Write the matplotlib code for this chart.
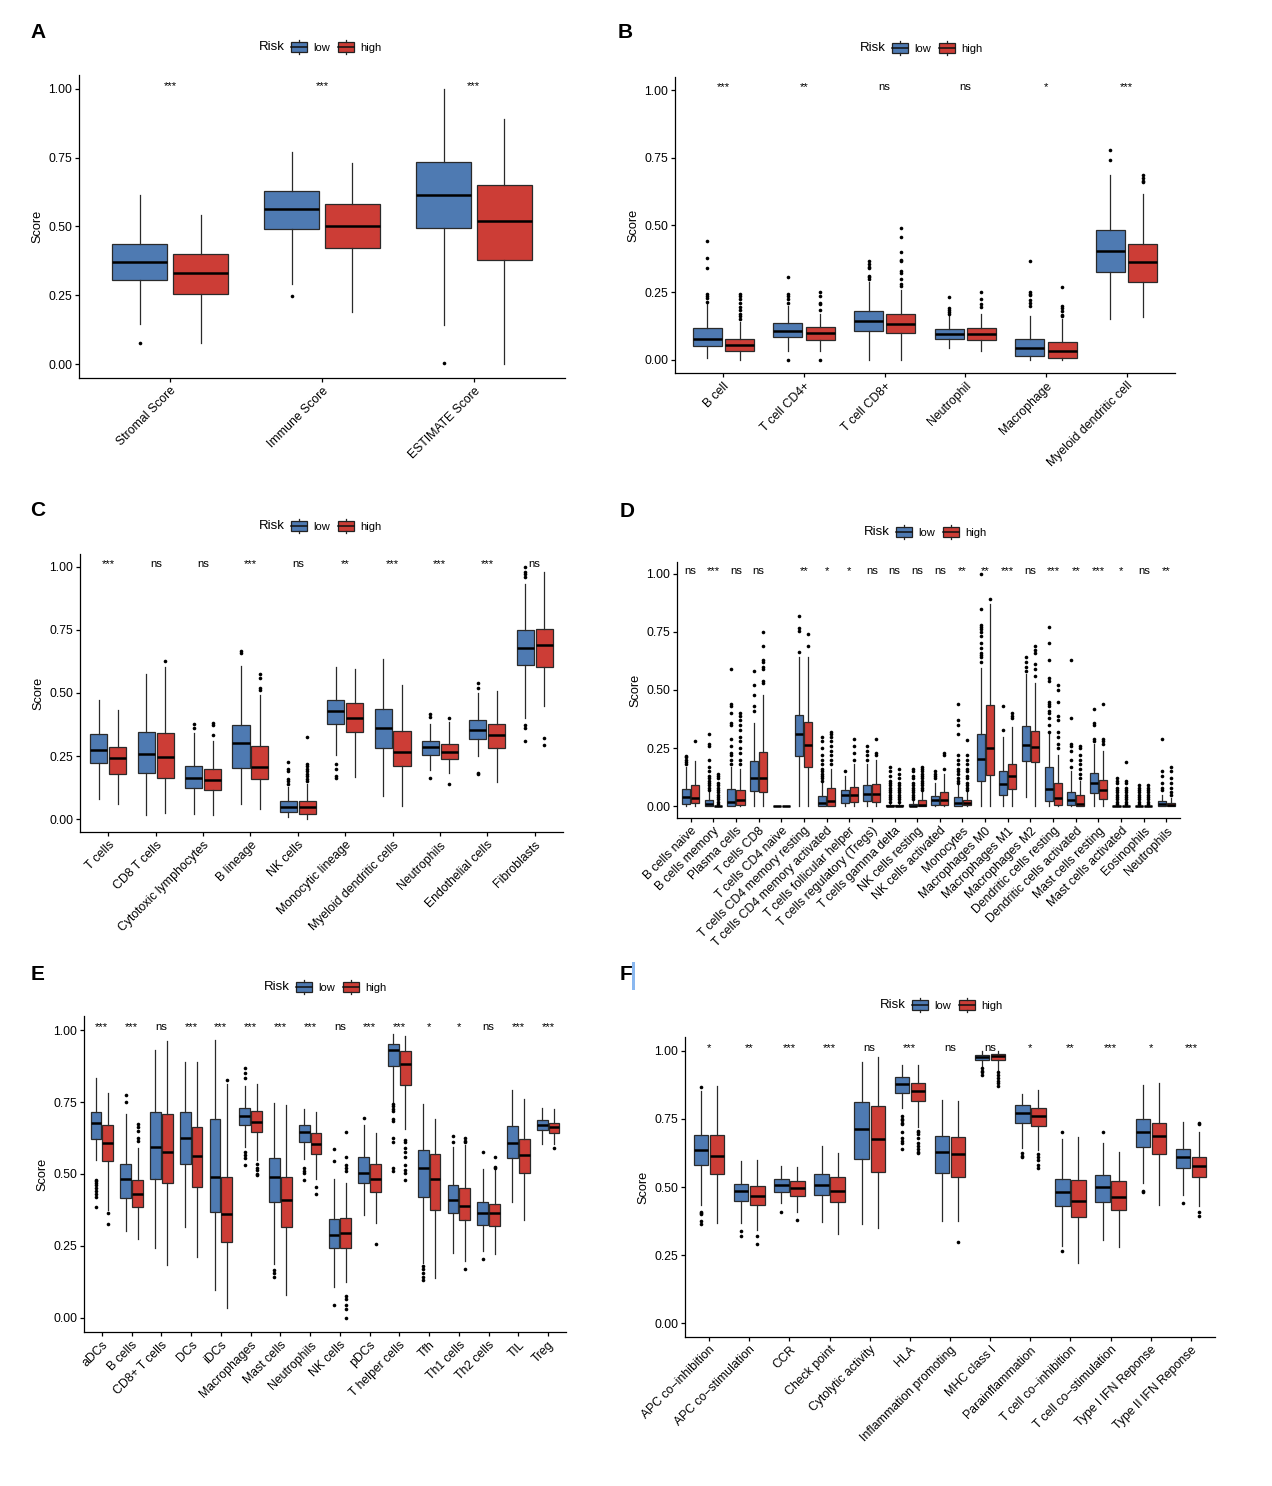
import matplotlib
matplotlib.use('Agg')
import matplotlib.pyplot as plt
from matplotlib.patches import Rectangle, Patch
from matplotlib.lines import Line2D
from matplotlib.legend_handler import HandlerBase

plt.rcParams['font.family'] = ['Liberation Sans', 'DejaVu Sans']

LOW_COLOR = '#4E7AB2'
HIGH_COLOR = '#CC3D36'

# each box: [whislo, q1, median, q3, whishi]

# Panel A
A_cats = ['Stromal Score', 'Immune Score', 'ESTIMATE Score']
A_sig = ['***', '***', '***']
A_low = [[0.145, 0.304, 0.37, 0.436, 0.613], [0.291, 0.491, 0.562, 0.628, 0.77], [0.141, 0.493, 0.613, 0.735, 1.0]]
A_low_out = [[0.076], [0.248], [0.004]]
A_high = [[0.076, 0.255, 0.332, 0.399, 0.543], [0.19, 0.423, 0.50, 0.581, 0.731], [0.0, 0.378, 0.52, 0.651, 0.892]]
A_high_out = [[], [], []]

# Panel B
B_cats = ['B cell', 'T cell CD4+', 'T cell CD8+', 'Neutrophil', 'Macrophage', 'Myeloid dendritic cell']
B_sig = ['***', '**', 'ns', 'ns', '*', '***']
B_low = [[0.005, 0.05, 0.077, 0.118, 0.205], [0.03, 0.083, 0.105, 0.135, 0.20], [0.0, 0.105, 0.143, 0.18, 0.29],
         [0.043, 0.077, 0.095, 0.112, 0.16], [0.0, 0.014, 0.043, 0.077, 0.161], [0.152, 0.326, 0.403, 0.481, 0.685]]
B_low_out = [[0.439, 0.379, 0.342, 0.242, 0.235, 0.229, 0.214], [0.305, 0.245, 0.235, 0.225, 0.21, 0.0],
             [0.365, 0.355, 0.345, 0.34, 0.31, 0.305, 0.30], [0.233, 0.19, 0.185, 0.175, 0.17],
             [0.368, 0.25, 0.245, 0.24, 0.22, 0.21, 0.20], [0.78, 0.74]]
B_high = [[0.0, 0.031, 0.053, 0.077, 0.14], [0.03, 0.074, 0.098, 0.12, 0.17], [0.0, 0.10, 0.133, 0.17, 0.26],
          [0.031, 0.074, 0.095, 0.117, 0.17], [0.0, 0.004, 0.033, 0.066, 0.15], [0.159, 0.289, 0.364, 0.428, 0.616]]
B_high_out = [[0.245, 0.235, 0.225, 0.21, 0.195, 0.185, 0.17, 0.16, 0.15], [0.25, 0.235, 0.21, 0.205, 0.185, 0.0],
              [0.49, 0.455, 0.40, 0.37, 0.365, 0.33, 0.32, 0.30, 0.28, 0.275], [0.25, 0.225, 0.205, 0.195],
              [0.27, 0.2, 0.19, 0.18, 0.165, 0.16], [0.685, 0.675, 0.665, 0.66]]

# Panel C
C_cats = ['T cells', 'CD8 T cells', 'Cytotoxic lymphocytes', 'B lineage', 'NK cells', 'Monocytic lineage',
          'Myeloid dendritic cells', 'Neutrophils', 'Endothelial cells', 'Fibroblasts']
C_sig = ['***', 'ns', 'ns', '***', 'ns', '**', '***', '***', '***', 'ns']
C_low = [[0.082, 0.224, 0.276, 0.337, 0.471], [0.016, 0.183, 0.259, 0.347, 0.575], [0.022, 0.125, 0.162, 0.213, 0.342],
         [0.059, 0.205, 0.303, 0.375, 0.605], [0.008, 0.029, 0.049, 0.071, 0.13], [0.253, 0.376, 0.43, 0.474, 0.603],
         [0.091, 0.282, 0.362, 0.436, 0.634], [0.197, 0.254, 0.286, 0.312, 0.378], [0.25, 0.318, 0.355, 0.395, 0.50],
         [0.40, 0.609, 0.68, 0.751, 0.93]]
C_low_out = [[], [], [0.378, 0.36], [0.665, 0.66], [0.225, 0.20, 0.19, 0.16, 0.15, 0.14], [0.22, 0.2, 0.17, 0.165],
             [], [0.415, 0.405, 0.165], [0.54, 0.52, 0.185, 0.18], [1.0, 0.98, 0.97, 0.96, 0.375, 0.36, 0.31]]
C_high = [[0.059, 0.18, 0.241, 0.288, 0.434], [0.026, 0.163, 0.245, 0.343, 0.601], [0.018, 0.116, 0.155, 0.199, 0.31],
          [0.042, 0.159, 0.207, 0.292, 0.492], [0.0, 0.022, 0.047, 0.071, 0.14], [0.168, 0.345, 0.401, 0.459, 0.595],
          [0.051, 0.211, 0.268, 0.351, 0.53], [0.184, 0.237, 0.268, 0.30, 0.384], [0.147, 0.283, 0.332, 0.376, 0.507],
          [0.45, 0.601, 0.69, 0.755, 0.978]]
C_high_out = [[], [0.625], [0.38, 0.375, 0.332], [0.575, 0.56, 0.52, 0.51],
              [0.325, 0.22, 0.21, 0.2, 0.19, 0.18, 0.17, 0.16, 0.15], [], [], [0.40, 0.138], [], [0.32, 0.295]]

# Panel D
D_cats = ['B cells naive', 'B cells memory', 'Plasma cells', 'T cells CD8', 'T cells CD4 naive',
          'T cells CD4 memory resting', 'T cells CD4 memory activated', 'T cells follicular helper',
          'T cells regulatory (Tregs)', 'T cells gamma delta', 'NK cells resting', 'NK cells activated', 'Monocytes',
          'Macrophages M0', 'Macrophages M1', 'Macrophages M2', 'Dendritic cells resting', 'Dendritic cells activated',
          'Mast cells resting', 'Mast cells activated', 'Eosinophils', 'Neutrophils']
D_sig = ['ns', '***', 'ns', 'ns', '', '**', '*', '*', 'ns', 'ns', 'ns', 'ns', '**', '**', '***', 'ns', '***', '**',
         '***', '*', 'ns', '**']
D_low = [[0, 0.01, 0.039, 0.076, 0.17], [0, 0, 0.01, 0.026, 0.06], [0, 0, 0.019, 0.074, 0.17],
         [0, 0.066, 0.123, 0.194, 0.36], [0, 0, 0, 0, 0], [0, 0.216, 0.31, 0.393, 0.64], [0, 0, 0.013, 0.043, 0.1],
         [0, 0.014, 0.047, 0.069, 0.13], [0, 0.021, 0.053, 0.093, 0.18], [0, 0, 0, 0.004, 0.01],
         [0, 0, 0.002, 0.01, 0.025], [0, 0.006, 0.026, 0.043, 0.1], [0, 0, 0.014, 0.039, 0.09],
         [0, 0.109, 0.203, 0.313, 0.593], [0, 0.047, 0.096, 0.154, 0.3], [0.04, 0.194, 0.264, 0.344, 0.57],
         [0, 0.021, 0.076, 0.167, 0.31], [0, 0.006, 0.029, 0.063, 0.15], [0, 0.059, 0.1, 0.143, 0.27],
         [0, 0, 0, 0.002, 0.005], [0, 0, 0, 0.002, 0.005], [0, 0, 0.011, 0.021, 0.05]]
D_low_out = [[0.215, 0.21, 0.2, 0.19, 0.18],
             [0.31, 0.27, 0.26, 0.2, 0.17, 0.15, 0.13, 0.12, 0.11, 0.1, 0.09, 0.08, 0.07],
             [0.59, 0.44, 0.43, 0.4, 0.36, 0.35, 0.29, 0.26, 0.23, 0.22, 0.2, 0.18],
             [0.58, 0.52, 0.48, 0.43, 0.41], [], [0.82, 0.765, 0.755, 0.665],
             [0.3, 0.28, 0.25, 0.22, 0.2, 0.18, 0.16, 0.15, 0.14, 0.13, 0.12, 0.11], [0.15], [0.26, 0.24, 0.22, 0.2],
             [0.17, 0.15, 0.13, 0.11, 0.1, 0.09, 0.08, 0.07, 0.06, 0.05, 0.04, 0.03, 0.02],
             [0.16, 0.15, 0.13, 0.12, 0.1, 0.09, 0.08, 0.07, 0.06, 0.05, 0.04, 0.03], [0.15, 0.14, 0.13, 0.12],
             [0.44, 0.37, 0.35, 0.31, 0.22, 0.2, 0.18, 0.16, 0.15, 0.14, 0.12, 0.11, 0.1],
             [1.0, 0.85, 0.78, 0.77, 0.76, 0.75, 0.73, 0.7, 0.68, 0.66, 0.65, 0.64, 0.62], [0.43, 0.33],
             [0.64, 0.62, 0.6, 0.58],
             [0.77, 0.7, 0.63, 0.55, 0.54, 0.45, 0.44, 0.43, 0.41, 0.4, 0.38, 0.35, 0.32],
             [0.63, 0.38, 0.27, 0.26, 0.24, 0.2, 0.17], [0.42, 0.36, 0.35, 0.29, 0.28],
             [0.12, 0.11, 0.1, 0.08, 0.07, 0.06, 0.05, 0.04, 0.03, 0.02, 0.01],
             [0.09, 0.08, 0.07, 0.06, 0.05, 0.04, 0.03, 0.02, 0.01], [0.29, 0.15, 0.13, 0.1, 0.08, 0.07]]
D_high = [[0, 0.014, 0.036, 0.091, 0.197], [0, 0, 0, 0.002, 0.005], [0, 0.006, 0.026, 0.069, 0.16],
          [0, 0.063, 0.123, 0.233, 0.48], [0, 0, 0, 0, 0], [0, 0.17, 0.264, 0.364, 0.643], [0, 0, 0.021, 0.079, 0.16],
          [0, 0.019, 0.05, 0.083, 0.18], [0, 0.019, 0.051, 0.096, 0.2], [0, 0, 0, 0.004, 0.01],
          [0, 0, 0.007, 0.026, 0.06], [0, 0.006, 0.026, 0.06, 0.14], [0, 0.004, 0.016, 0.027, 0.065],
          [0, 0.134, 0.249, 0.434, 0.87], [0, 0.074, 0.131, 0.181, 0.34], [0, 0.19, 0.254, 0.324, 0.53],
          [0, 0.006, 0.036, 0.1, 0.22], [0, 0, 0.011, 0.047, 0.11], [0, 0.033, 0.071, 0.114, 0.24],
          [0, 0, 0, 0.002, 0.005], [0, 0, 0, 0.002, 0.005], [0, 0, 0.007, 0.014, 0.035]]
D_high_out = [[0.28], [0.14, 0.13, 0.12, 0.1, 0.09, 0.08, 0.07, 0.06, 0.05, 0.04, 0.03, 0.02, 0.01],
              [0.4, 0.39, 0.37, 0.35, 0.33, 0.3, 0.28, 0.25, 0.23, 0.2, 0.18],
              [0.75, 0.69, 0.63, 0.62, 0.6, 0.59, 0.54, 0.53], [], [0.74, 0.69],
              [0.32, 0.31, 0.3, 0.28, 0.26, 0.24, 0.22, 0.2, 0.18], [0.29, 0.26, 0.23, 0.2], [0.29, 0.23, 0.22],
              [0.16, 0.14, 0.12, 0.1, 0.09, 0.08, 0.07, 0.06, 0.05, 0.04, 0.03, 0.02],
              [0.17, 0.16, 0.15, 0.14, 0.13, 0.12, 0.11, 0.1, 0.09, 0.08, 0.07], [0.23, 0.22, 0.16],
              [0.285, 0.22, 0.2, 0.18, 0.16, 0.15, 0.13, 0.12, 0.1, 0.09, 0.08, 0.07], [0.89], [0.4, 0.39, 0.38],
              [0.69, 0.67, 0.66, 0.61, 0.59, 0.56], [0.52, 0.5, 0.45, 0.39, 0.37, 0.32, 0.3, 0.27, 0.25],
              [0.26, 0.25, 0.22, 0.2, 0.18, 0.16, 0.14, 0.12], [0.44, 0.29, 0.28, 0.27],
              [0.19, 0.11, 0.1, 0.08, 0.07, 0.06, 0.05, 0.04, 0.03, 0.02, 0.01],
              [0.09, 0.08, 0.07, 0.06, 0.05, 0.04, 0.03, 0.02, 0.01], [0.17, 0.15, 0.12, 0.1, 0.08, 0.06, 0.05]]

# Panel E
E_cats = ['aDCs', 'B cells', 'CD8+ T cells', 'DCs', 'iDCs', 'Macrophages', 'Mast cells', 'Neutrophils', 'NK cells',
          'pDCs', 'T helper cells', 'Tfh', 'Th1 cells', 'Th2 cells', 'TIL', 'Treg']
E_sig = ['***', '***', 'ns', '***', '***', '***', '***', '***', 'ns', '***', '***', '*', '*', 'ns', '***', '***']
E_low = [[0.548, 0.621, 0.678, 0.715, 0.835], [0.301, 0.417, 0.481, 0.536, 0.71], [0.241, 0.482, 0.594, 0.716, 0.933],
         [0.316, 0.536, 0.626, 0.715, 0.889], [0.096, 0.367, 0.491, 0.691, 0.965], [0.594, 0.67, 0.701, 0.73, 0.805],
         [0.185, 0.401, 0.489, 0.554, 0.747], [0.552, 0.613, 0.645, 0.672, 0.728], [0.108, 0.241, 0.289, 0.345, 0.482],
         [0.357, 0.467, 0.505, 0.56, 0.67], [0.751, 0.875, 0.93, 0.954, 0.986], [0.189, 0.421, 0.52, 0.583, 0.745],
         [0.224, 0.363, 0.411, 0.46, 0.594], [0.233, 0.324, 0.363, 0.402, 0.516], [0.403, 0.556, 0.608, 0.666, 0.791],
         [0.603, 0.652, 0.671, 0.687, 0.731]]
E_low_out = [[0.48, 0.475, 0.47, 0.46, 0.45, 0.44, 0.43, 0.42, 0.385], [0.775, 0.75], [], [], [],
             [0.87, 0.85, 0.835, 0.575, 0.565, 0.555, 0.53], [0.165, 0.155, 0.14], [0.52, 0.51, 0.505, 0.48],
             [0.588, 0.545, 0.045], [0.695],
             [0.745, 0.735, 0.725, 0.72, 0.69, 0.685, 0.625, 0.61, 0.52, 0.51], [0.18, 0.17, 0.155, 0.14, 0.13],
             [0.632, 0.61], [0.578, 0.205], [], []]
E_high = [[0.374, 0.545, 0.608, 0.669, 0.782], [0.273, 0.386, 0.432, 0.479, 0.591], [0.183, 0.469, 0.577, 0.709, 0.962],
          [0.212, 0.455, 0.562, 0.665, 0.889], [0.032, 0.262, 0.362, 0.49, 0.812], [0.548, 0.645, 0.681, 0.72, 0.815],
          [0.079, 0.314, 0.411, 0.49, 0.739], [0.484, 0.568, 0.604, 0.643, 0.716], [0.125, 0.241, 0.293, 0.348, 0.469],
          [0.328, 0.438, 0.481, 0.536, 0.644], [0.658, 0.811, 0.884, 0.927, 0.98], [0.139, 0.374, 0.481, 0.571, 0.691],
          [0.197, 0.34, 0.389, 0.45, 0.60], [0.22, 0.32, 0.363, 0.395, 0.519], [0.34, 0.504, 0.565, 0.623, 0.76],
          [0.606, 0.641, 0.663, 0.678, 0.727]]
E_high_out = [[0.363, 0.325], [0.675, 0.665, 0.65, 0.625, 0.615], [], [], [0.828], [0.535, 0.52, 0.515, 0.5, 0.495],
              [], [0.455, 0.43], [0.645, 0.56, 0.53, 0.52, 0.51, 0.075, 0.065, 0.045, 0.03, 0.0], [0.255],
              [0.62, 0.61, 0.59, 0.575, 0.56, 0.53, 0.515, 0.505, 0.48], [], [0.625, 0.615, 0.61, 0.17],
              [0.558, 0.523, 0.52], [], [0.59]]

# Panel F
F_cats = ['APC co\u2212inhibition', 'APC co\u2212stimulation', 'CCR', 'Check point', 'Cytolytic activity', 'HLA',
          'Inflammation promoting', 'MHC class I', 'Parainflammation', 'T cell co\u2212inhibition',
          'T cell co\u2212stimulation', 'Type I IFN Reponse', 'Type II IFN Reponse']
F_sig = ['*', '**', '***', '***', 'ns', '***', 'ns', 'ns', '*', '**', '***', '*', '***']
F_low = [[0.435, 0.581, 0.635, 0.691, 0.851], [0.368, 0.447, 0.484, 0.512, 0.597], [0.441, 0.481, 0.507, 0.531, 0.578],
         [0.372, 0.471, 0.508, 0.548, 0.651], [0.366, 0.604, 0.713, 0.81, 0.957], [0.79, 0.846, 0.879, 0.902, 0.949],
         [0.374, 0.55, 0.627, 0.688, 0.818], [0.94, 0.965, 0.976, 0.985, 0.998], [0.642, 0.733, 0.772, 0.80, 0.842],
         [0.283, 0.429, 0.481, 0.53, 0.676], [0.307, 0.445, 0.499, 0.544, 0.662], [0.514, 0.648, 0.701, 0.751, 0.874],
         [0.471, 0.569, 0.611, 0.639, 0.738]]
F_low_out = [[0.868, 0.41, 0.405, 0.40, 0.375, 0.365], [0.34, 0.32], [0.41], [], [],
             [0.76, 0.75, 0.745, 0.735, 0.73, 0.70, 0.68, 0.67, 0.66, 0.64], [], [0.935, 0.925, 0.92, 0.91],
             [0.625, 0.615, 0.61], [0.70, 0.265], [0.70], [0.485, 0.48], [0.44]]
F_high = [[0.368, 0.548, 0.614, 0.691, 0.872], [0.344, 0.433, 0.468, 0.502, 0.599], [0.41, 0.468, 0.495, 0.522, 0.575],
          [0.329, 0.445, 0.487, 0.535, 0.626], [0.351, 0.556, 0.677, 0.796, 0.976], [0.72, 0.814, 0.853, 0.881, 0.949],
          [0.374, 0.535, 0.621, 0.685, 0.815], [0.93, 0.965, 0.979, 0.989, 0.998], [0.636, 0.723, 0.759, 0.79, 0.857],
          [0.22, 0.39, 0.45, 0.524, 0.682], [0.281, 0.414, 0.463, 0.522, 0.627], [0.435, 0.621, 0.688, 0.736, 0.881],
          [0.429, 0.536, 0.577, 0.609, 0.702]]
F_high_out = [[], [0.32, 0.29], [0.38], [], [], [0.705, 0.70, 0.695, 0.68, 0.66, 0.65, 0.64, 0.63, 0.625], [0.30],
              [0.92, 0.91, 0.90, 0.89, 0.88, 0.87], [0.62, 0.61, 0.60, 0.58, 0.57], [], [], [], [0.735, 0.73, 0.41, 0.395]]


class BoxHandler(HandlerBase):
    def create_artists(self, legend, orig_handle, xdescent, ydescent, width, height, fontsize, trans):
        x0, y0 = -xdescent, -ydescent
        box = Rectangle((x0, y0 + 0.12 * height), width, 0.76 * height, facecolor=orig_handle.get_facecolor(),
                        edgecolor='#222222', lw=0.9, transform=trans)
        med = Line2D([x0, x0 + width], [y0 + 0.5 * height] * 2, color='#111111', lw=1.1, transform=trans)
        w1 = Line2D([x0 + width / 2] * 2, [y0 - 0.05 * height, y0 + 0.12 * height], color='#222222', lw=0.9, transform=trans)
        w2 = Line2D([x0 + width / 2] * 2, [y0 + 0.88 * height, y0 + 1.05 * height], color='#222222', lw=0.9, transform=trans)
        return [box, med, w1, w2]


W, H = 1272, 1486
fig = plt.figure(figsize=(W / 100, H / 100), dpi=100)


def make_axes(left, right, top, bottom):
    return fig.add_axes([left / W, 1 - bottom / H, (right - left) / W, (bottom - top) / H])


def to_stats(boxes, outs):
    return [dict(whislo=b[0], q1=b[1], med=b[2], q3=b[3], whishi=b[4], fliers=o) for b, o in zip(boxes, outs)]


def draw_panel(ax, cats, sig, low, low_out, high, high_out):
    n = len(cats)
    pos = list(range(1, n + 1))
    for boxes, outs, shift, color in [(low, low_out, -0.2, LOW_COLOR), (high, high_out, 0.2, HIGH_COLOR)]:
        ax.bxp(to_stats(boxes, outs), positions=[p + shift for p in pos], widths=0.36, patch_artist=True,
               showcaps=False, manage_ticks=False,
               boxprops=dict(facecolor=color, edgecolor='#2a2a2a', linewidth=0.9),
               medianprops=dict(color='black', linewidth=1.8),
               whiskerprops=dict(color='#2a2a2a', linewidth=0.9),
               flierprops=dict(marker='o', markersize=2.6, markerfacecolor='black', markeredgecolor='none'))
    for p, s in zip(pos, sig):
        ax.text(p, 1.0, s, ha='center', va='baseline', fontsize=8.2)
    ax.set_xlim(0.4, n + 0.6)
    ax.set_ylim(-0.05, 1.05)
    ax.set_xticks(pos)
    ax.set_xticklabels(cats, rotation=45, ha='right', rotation_mode='anchor', fontsize=8.8)
    ax.set_yticks([0, 0.25, 0.5, 0.75, 1.0])
    ax.set_yticklabels(['0.00', '0.25', '0.50', '0.75', '1.00'], fontsize=8.8)
    ax.set_ylabel('Score', fontsize=9.2, labelpad=3)
    for sp in ['top', 'right']:
        ax.spines[sp].set_visible(False)
    for sp in ['left', 'bottom']:
        ax.spines[sp].set_linewidth(0.9)
    ax.tick_params(length=3, width=0.9, pad=2, colors='black')


def add_legend(x_risk, y):
    fig.text(x_risk / W, 1 - y / H, 'Risk', ha='right', va='center', fontsize=9.5)
    handles = [Patch(facecolor=LOW_COLOR), Patch(facecolor=HIGH_COLOR)]
    fig.legend(handles, ['low', 'high'], loc='center left', bbox_to_anchor=((x_risk + 6) / W, 1 - y / H),
               ncol=2, frameon=False, fontsize=8, handlelength=1.45, handleheight=1.5, handletextpad=0.55,
               columnspacing=0.75, borderpad=0, borderaxespad=0, handler_map={Patch: BoxHandler()})


panels = [
    ((79, 565, 75, 378), A_cats, A_sig, A_low, A_low_out, A_high, A_high_out, 'A', (38, 33), (285, 47)),
    ((675, 1175, 77, 373), B_cats, B_sig, B_low, B_low_out, B_high, B_high_out, 'B', (625, 33), (886, 48)),
    ((80, 563, 554, 832), C_cats, C_sig, C_low, C_low_out, C_high, C_high_out, 'C', (38, 510), (285, 526)),
    ((677, 1180, 562, 818), D_cats, D_sig, D_low, D_low_out, D_high, D_high_out, 'D', (627, 511), (890, 532)),
    ((84, 566, 1016, 1332), E_cats, E_sig, E_low, E_low_out, E_high, E_high_out, 'E', (38, 975), (290, 987)),
    ((685, 1215, 1037, 1337), F_cats, F_sig, F_low, F_low_out, F_high, F_high_out, 'F', (626, 975), (906, 1005)),
]

for box, cats, sig, low, low_out, high, high_out, letter, lpos, rpos in panels:
    ax = make_axes(*box)
    draw_panel(ax, cats, sig, low, low_out, high, high_out)
    fig.text(lpos[0] / W, 1 - lpos[1] / H, letter, ha='center', va='center', fontsize=15, fontweight='bold')
    add_legend(*rpos)

# small blue cursor mark next to the F label
fig.patches.append(Rectangle((632 / W, 1 - 990 / H), 3 / W, 28 / H, transform=fig.transFigure,
                             facecolor='#8ab8f0', edgecolor='none'))

fig.savefig('out.png', dpi=100)
